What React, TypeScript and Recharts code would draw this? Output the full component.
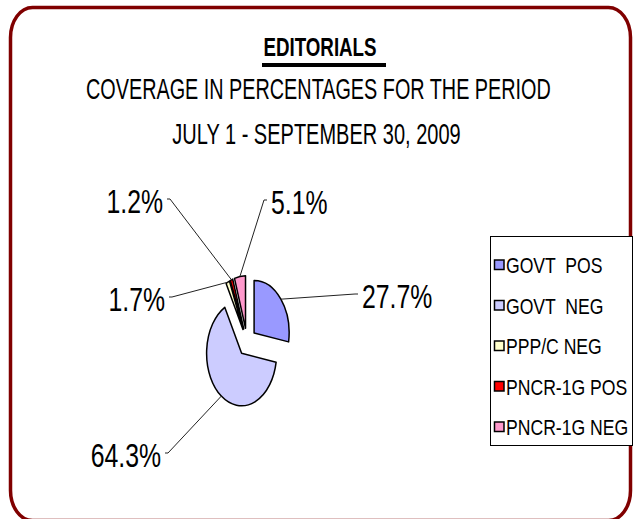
import React from "react";
import { PieChart, Pie, Cell, Legend } from "recharts";

const categories = ["GOVT  POS", "GOVT  NEG", "PPP/C NEG", "PNCR-1G POS", "PNCR-1G NEG"];
const shares = [27.7, 64.3, 1.7, 1.2, 5.1];
const sliceColors = ["#9999FF", "#CCCCFF", "#FFFFCC", "#FF0000", "#FF99CC"];
const titleLines = ["EDITORIALS", "COVERAGE IN PERCENTAGES FOR THE PERIOD", "JULY 1 - SEPTEMBER 30, 2009"];

const data = categories.map((name, i) => ({ name, value: shares[i] }));

// layout: the original chart is squashed horizontally, so the pie is an ellipse
const PIE_CX = 247;
const PIE_CY = 342;
const PIE_RY = 52.5;
const RX_RATIO = 0.667;
const EXPLODE = 0.265;
const LABEL_SCALE = 0.73;
const FONT = "'Liberation Sans', Arial, sans-serif";

// where each leader line meets its label: [x, y, side]
const labelAnchors: [number, number, "start" | "end"][] = [
  [358, 294, "start"],
  [165, 453, "end"],
  [169, 297, "end"],
  [167, 199, "end"],
  [267, 200, "start"],
];

const RAD = Math.PI / 180;

function ellipsePoint(cx: number, cy: number, rx: number, ry: number, deg: number) {
  return [cx + rx * Math.cos(deg * RAD), cy - ry * Math.sin(deg * RAD)];
}

function EllipseSector(props: any) {
  const { cx, cy, outerRadius, startAngle, endAngle, fill } = props;
  const ry = outerRadius;
  const rx = ry * RX_RATIO;
  const mid = (startAngle + endAngle) / 2;
  const [ox, oy] = ellipsePoint(cx, cy, EXPLODE * rx, EXPLODE * ry, mid);
  const [x1, y1] = ellipsePoint(ox, oy, rx, ry, startAngle);
  const [x2, y2] = ellipsePoint(ox, oy, rx, ry, endAngle);
  const large = Math.abs(startAngle - endAngle) > 180 ? 1 : 0;
  const sweep = startAngle > endAngle ? 1 : 0;
  return (
    <path
      d={`M${ox},${oy} L${x1},${y1} A${rx},${ry} 0 ${large} ${sweep} ${x2},${y2} Z`}
      fill={fill}
      stroke="#000"
      strokeWidth={1.5}
      strokeLinejoin="round"
    />
  );
}

function renderLabel(props: any) {
  const { cx, cy, outerRadius, startAngle, endAngle, index, value } = props;
  const mid = props.midAngle ?? (startAngle + endAngle) / 2;
  const ry = outerRadius;
  const rx = ry * RX_RATIO;
  const [ox, oy] = ellipsePoint(cx, cy, EXPLODE * rx, EXPLODE * ry, mid);
  const [sx, sy] = ellipsePoint(ox, oy, rx, ry, mid);
  const [ax, ay, side] = labelAnchors[index];
  const dir = side === "start" ? 1 : -1;
  return (
    <g>
      <polyline
        points={`${sx},${sy} ${ax - dir * 3},${ay} ${ax},${ay}`}
        fill="none"
        stroke="#222"
        strokeWidth={1}
      />
      <text
        transform={`translate(${ax + dir * 4},${ay + 13.5}) scale(${LABEL_SCALE},1)`}
        textAnchor={side}
        style={{ fontSize: 34, fontFamily: FONT }}
        fill="#000"
      >
        {`${Number(value).toFixed(1)}%`}
      </text>
    </g>
  );
}

// legend keeps the data order (recharts sorts its payload by name)
function LegendBox() {
  return (
    <svg width={143} height={210} style={{ display: "block" }}>
      <rect x={0.5} y={0.5} width={142} height={209} fill="#fff" stroke="#000" strokeWidth={1} />
      {categories.map((name, i) => {
        const rowY = 29 + i * 40.5;
        return (
          <g key={name}>
            <rect x={4.5} y={rowY - 5} width={9.5} height={9.5} fill={sliceColors[i]} stroke="#000" strokeWidth={1.5} />
            <text
              transform={`translate(16,${rowY + 8}) scale(0.8,1)`}
              style={{ fontSize: 22, fontFamily: FONT, whiteSpace: "pre" }}
              fill="#000"
            >
              {name}
            </text>
          </g>
        );
      })}
    </svg>
  );
}

export default function App() {
  return (
    <div style={{ position: "absolute", left: 0, top: 0, width: 635, height: 519, background: "#fff", fontFamily: FONT, overflow: "hidden" }}>
      <svg width={635} height={519} style={{ position: "absolute", left: 0, top: 0 }}>
        <rect x={10.5} y={7.5} width={620} height={513} rx={22} ry={30} fill="none" stroke="#800000" strokeWidth={3.5} />
        <text transform="translate(320,56) scale(0.75,1)" textAnchor="middle" style={{ fontSize: 25, fontWeight: "bold", fontFamily: FONT }}>
          {titleLines[0]}
        </text>
        <rect x={262} y={63} width={124} height={4} fill="#000" />
        <text transform="translate(318.4,98.5) scale(0.683,1)" textAnchor="middle" style={{ fontSize: 29, fontFamily: FONT }}>
          {titleLines[1]}
        </text>
        <text transform="translate(316.5,144) scale(0.69,1)" textAnchor="middle" style={{ fontSize: 29, fontFamily: FONT }}>
          {titleLines[2]}
        </text>
      </svg>
      <div style={{ position: "absolute", left: 0, top: 0 }}>
        <PieChart width={635} height={519} margin={{ top: 0, right: 0, bottom: 0, left: 0 }}>
          <Pie
            data={data}
            dataKey="value"
            nameKey="name"
            cx={PIE_CX}
            cy={PIE_CY}
            outerRadius={PIE_RY}
            startAngle={90}
            endAngle={-270}
            shape={EllipseSector}
            label={renderLabel}
            labelLine={false}
            isAnimationActive={false}
          >
            {data.map((d, i) => (
              <Cell key={d.name} fill={sliceColors[i]} />
            ))}
          </Pie>
          <Legend
            layout="vertical"
            align="right"
            verticalAlign="middle"
            content={<LegendBox />}
            wrapperStyle={{ position: "absolute", left: 490, top: 236, width: 143, height: 210 }}
          />
        </PieChart>
      </div>
    </div>
  );
}
